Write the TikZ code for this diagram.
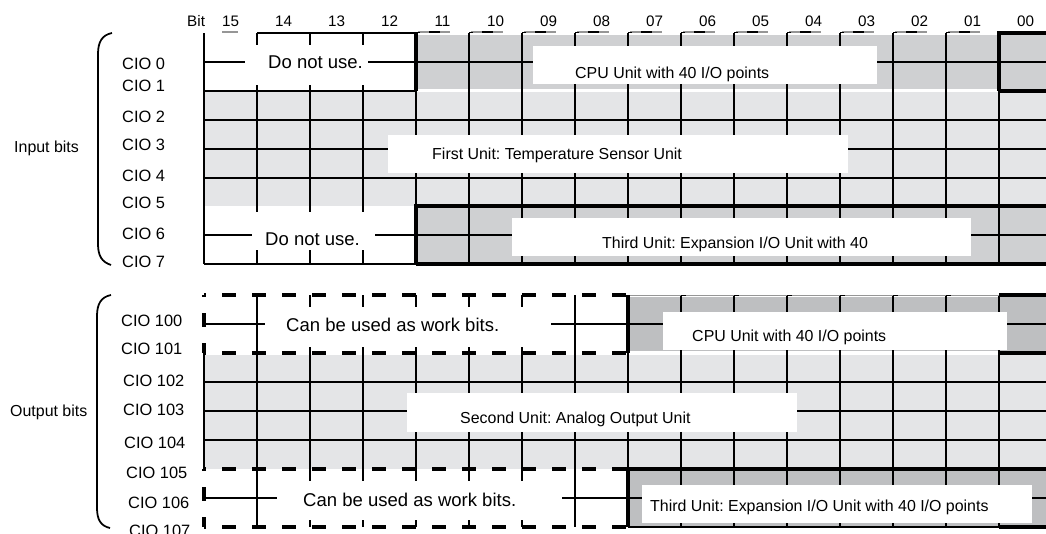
\documentclass[tikz,border=0pt]{standalone}
\usepackage{fontspec}
\setmainfont{Liberation Sans}
\usetikzlibrary{positioning}
\frenchspacing

\definecolor{unitdark}{RGB}{207,208,210}
\definecolor{unitdeep}{RGB}{190,191,193}
\definecolor{unitlight}{RGB}{228,229,231}
\definecolor{rulegray}{RGB}{150,150,150}

\begin{document}
\begin{tikzpicture}[
    x=0.03cm, y=-0.03cm,
    gridline/.style={line width=1.9pt},
    heavy/.style={line width=4.2pt},
    workedge/.style={line width=3.4pt, dash pattern=on 0.42cm off 0.48cm, dash phase=0.36cm},
    labelbox/.style={fill=white, inner sep=0pt},
    unittext/.style={anchor=base west, inner sep=0pt, font=\fontsize{13.6}{16}\selectfont},
    bigtext/.style={anchor=base west, inner sep=0pt, font=\fontsize{15.8}{18}\selectfont},
    ciotext/.style={anchor=base west, inner sep=0pt, font=\fontsize{14}{16}\selectfont},
    bittext/.style={anchor=base, inner sep=0pt, font=\fontsize{13}{15}\selectfont}
]
    \useasboundingbox (0,0) rectangle (1046,533);
    \clip (0,0) rectangle (1046,533);

    % Fills
    \fill[unitdark] (416,35) rectangle (1052,89);
    \fill[unitlight] (204,92) rectangle (1052,206);
    \fill[unitdark] (416,206) rectangle (1052,264);
    \fill[unitdeep] (628,297) rectangle (1052,351);
    \fill[unitlight] (204,355) rectangle (1052,469);
    \fill[unitdeep] (628,469) rectangle (1052,527);

    % Bit numbers
    \node[bittext, anchor=base west] (bit) at (187,26) {Bit};
    \foreach \n [count=\i from 0] in {15,14,13,12,11,10,09,08,07,06,05,04,03,02,01,00}
        \node[bittext] (bit\n) at (230.5+53*\i,26) {\n};
    \draw[rulegray, line width=1pt] (222,32) -- (238,32);
    \foreach \i in {4,...,14} {
        \draw[rulegray, line width=1pt] (206+53*\i,32) -- (238+53*\i,32);
        \draw[line width=1.2pt] (217+53*\i,32) -- (228+53*\i,32);
        \draw[line width=1.2pt] (204+53*\i,32.5) -- (208+53*\i,32.5);
    }

    % Input words
    \foreach \i in {0,...,15}
        \draw[gridline] (204+53*\i,33) -- (204+53*\i,264);
    \foreach \y in {62,120,149,178,235}
        \draw[gridline] (204,\y) -- (1052,\y);
    \draw[gridline] (257,33) -- (416,33);
    \draw[gridline] (204,91) -- (416,91);
    \draw[gridline] (204,264) -- (416,264);
    \draw[heavy] (416,33) -- (416,91);
    \draw[heavy] (416,264) -- (416,206) -- (1052,206);
    \draw[heavy] (416,264) -- (1052,264);
    \draw[heavy] (999,91) -- (999,33) -- (1052,33);
    \draw[heavy] (999,91) -- (1052,91);

    % Output words
    \foreach \i in {1,...,15}
        \draw[gridline] (204+53*\i,295) -- (204+53*\i,527);
    \draw[gridline] (204,353) -- (204,469);
    \foreach \y in {324,382,411,440,498}
        \draw[gridline] (204,\y) -- (1052,\y);
    \draw[gridline] (628,527) -- (1052,527);
    \draw[rulegray, line width=1pt] (628,295.5) -- (999,295.5);
    \foreach \i in {9,...,14}
        \draw[line width=1.2pt] (204+53*\i,295.5) -- (209+53*\i,295.5);
    \draw[workedge] (204,295) -- (628,295);
    \draw[workedge] (204,353) -- (628,353);
    \draw[workedge] (204,295) -- (204,353);
    \draw[workedge] (204,469) -- (628,469);
    \draw[workedge] (204,527) -- (628,527);
    \draw[workedge] (204,469) -- (204,527);
    \draw[heavy] (628,295) -- (628,353);
    \draw[heavy] (628,527) -- (628,469) -- (1052,469);
    \draw[heavy] (999,295) -- (1052,295);
    \draw[heavy] (999,353) -- (1052,353);
    \draw[heavy] (999,527) -- (1052,527);

    % Label boxes
    \node[labelbox, minimum width=3.69cm, minimum height=1.2cm] (dnuA) at (306.5,65) {};
    \node[labelbox, minimum width=3.69cm, minimum height=1.14cm] (dnuB) at (313.5,231) {};
    \node[labelbox, minimum width=10.32cm, minimum height=1.14cm] (cpuIn) at (705,65) {};
    \node[labelbox, minimum width=13.8cm, minimum height=1.14cm] (firstU) at (618,154) {};
    \node[labelbox, minimum width=13.77cm, minimum height=1.14cm] (thirdIn) at (741.5,237) {};
    \node[labelbox, minimum width=8.58cm, minimum height=1.2cm] (workA) at (408,327) {};
    \node[labelbox, minimum width=10.32cm, minimum height=1.14cm] (cpuOut) at (835,331) {};
    \node[labelbox, minimum width=11.7cm, minimum height=1.17cm] (secondU) at (602,412.5) {};
    \node[labelbox, minimum width=8.55cm, minimum height=1.17cm] (workB) at (419.5,500.5) {};
    \node[labelbox, minimum width=11.7cm, minimum height=1.14cm] (thirdOut) at (837,504) {};

    % Label texts
    \node[bigtext] (dnuAtext) at (268,68) {Do not use.};
    \node[bigtext] (dnuBtext) at (265,245) {Do not use.};
    \node[unittext] (cpuIntext) at (575,78) {CPU Unit with 40 I/O points};
    \node[unittext] (firstUtext) at (432,159) {First Unit: Temperature Sensor Unit};
    \node[unittext] (thirdIntext) at (602,248) {Third Unit: Expansion I/O Unit with 40};
    \node[bigtext] (workAtext) at (286,331) {Can be used as work bits.};
    \node[unittext] (cpuOuttext) at (692,341) {CPU Unit with 40 I/O points};
    \node[unittext] (secondUtext) at (460,423) {Second Unit: Analog Output Unit};
    \node[bigtext] (workBtext) at (303,506) {Can be used as work bits.};
    \node[unittext] (thirdOuttext) at (650,511) {Third Unit: Expansion I/O Unit with 40 I/O points};

    % Word addresses
    \foreach \w/\b in {0/69,1/91,2/122,3/150,4/181,5/208,6/239,7/267}
        \node[ciotext] (cio\w) at (122,\b) {CIO \w};
    \foreach \w/\b/\l in {100/326/121,101/354/121,102/386/123,103/415/123,104/448/124,105/478/126,106/508/128,107/536/129}
        \node[ciotext] (cio\w) at (\l,\b) {CIO \w};

    % Groups
    \node[unittext] (inbits) at (14,152) {Input bits};
    \node[unittext] (outbits) at (10,416) {Output bits};
    \draw[line width=1.5pt] (112,33) .. controls (102,35) and (98,42) .. (98,54)
        -- (98,244) .. controls (98,256) and (102,262) .. (111,265);
    \draw[line width=1.5pt] (111,295) .. controls (101,297) and (97,304) .. (97,316)
        -- (97,508) .. controls (97,520) and (101,526) .. (110,528);
\end{tikzpicture}
\end{document}
